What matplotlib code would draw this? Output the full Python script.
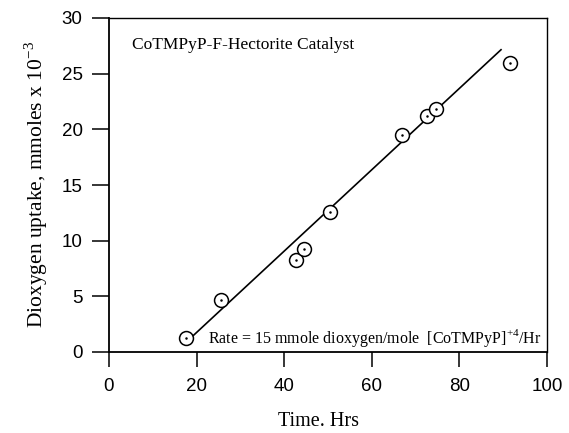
import matplotlib
matplotlib.use("Agg")
import matplotlib.pyplot as plt

# Data
time_hrs = [17.6, 25.5, 42.8, 44.6, 50.5, 67.0, 72.7, 74.6, 91.6]
uptake = [1.3, 4.7, 8.3, 9.25, 12.55, 19.5, 21.2, 21.8, 25.97]
fit_x = [19.3, 89.5]
fit_y = [1.5, 27.15]
x_ticks = [0, 20, 40, 60, 80, 100]
y_ticks = [0, 5, 10, 15, 20, 25, 30]

fig = plt.figure(figsize=(5.69, 4.33), dpi=100)
ax = fig.add_axes([109/569, 1 - 352/433, (547-109)/569, (352-18)/433])

ax.plot(fit_x, fit_y, color="black", lw=1.2, zorder=2)
ax.plot(time_hrs, uptake, linestyle="none", marker="o", markersize=10,
        markerfacecolor="white", markeredgecolor="black", markeredgewidth=1.1, zorder=3)
ax.plot(time_hrs, uptake, linestyle="none", marker="o", markersize=0.8,
        color="black", zorder=4)

ax.set_xlim(0, 100)
ax.set_ylim(0, 30)
ax.set_xticks(x_ticks)
ax.set_yticks(y_ticks)

sans = ["Liberation Sans", "DejaVu Sans"]
serif = ["Liberation Serif", "DejaVu Serif"]
for lab in ax.get_xticklabels() + ax.get_yticklabels():
    lab.set_fontfamily(sans)
    lab.set_fontsize(13.5)

ax.tick_params(axis="y", direction="out", length=12, width=1.1, pad=7)
ax.tick_params(axis="x", direction="out", length=11, width=1.1, pad=8)
for s in ["left", "bottom"]:
    ax.spines[s].set_linewidth(1.3)
for s in ["top", "right"]:
    ax.spines[s].set_linewidth(1.0)

fig.text(318/569, 1 - 421/433, "Time. Hrs", fontfamily=serif, fontsize=14.5,
         ha="center", va="center")
ax.set_ylabel("Dioxygen uptake, mmoles x 10$^{\\mathregular{-3}}$", fontfamily=serif,
              fontsize=15.5, labelpad=8)

ax.text(0.052, 0.92, "CoTMPyP-F-Hectorite Catalyst", transform=ax.transAxes,
        fontfamily=serif, fontsize=12.5, va="center", ha="left")
ax.text(0.225, 0.042, "Rate = 15 mmole dioxygen/mole  [CoTMPyP]$^{\\mathregular{+4}}$/Hr",
        transform=ax.transAxes, fontfamily=serif, fontsize=11.5, va="center", ha="left")

fig.savefig("out.png", dpi=100)
